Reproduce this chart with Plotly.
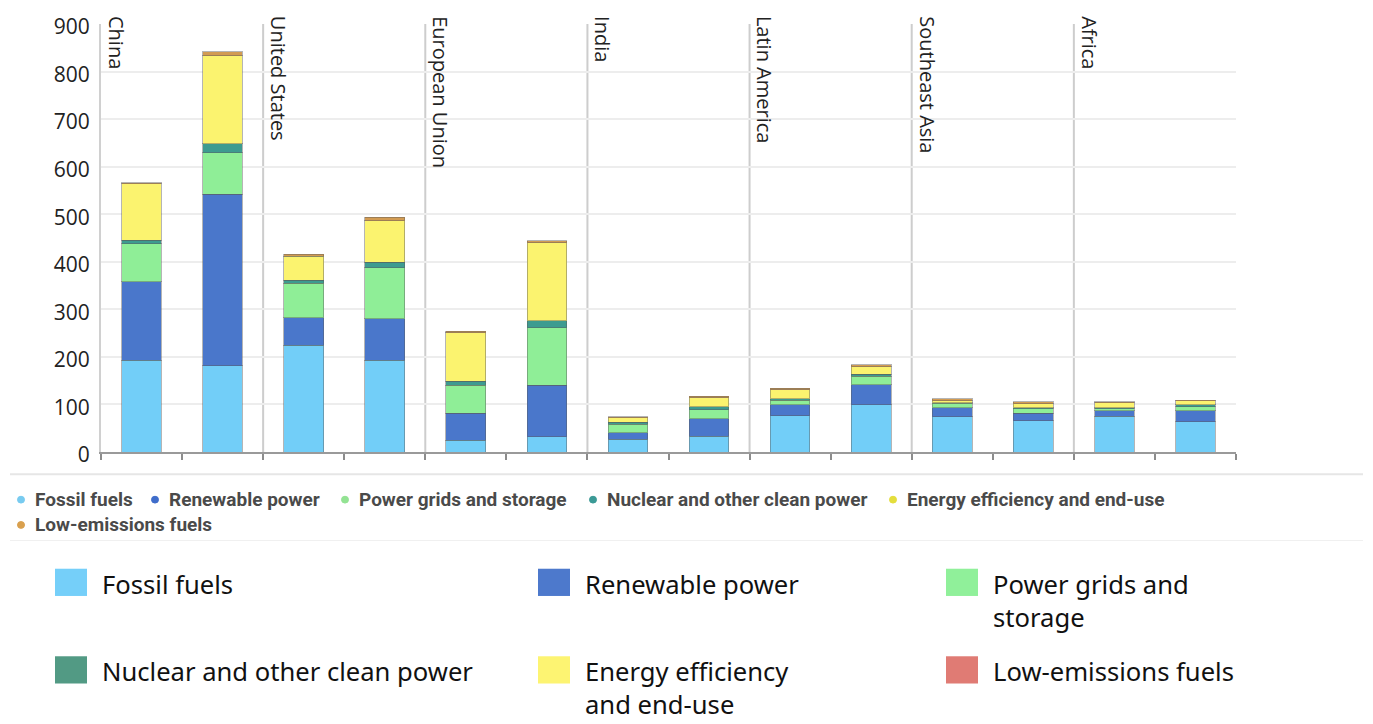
import plotly.graph_objects as go

# ---------------- data ----------------
regions = ["China", "United States", "European Union", "India",
           "Latin America", "Southeast Asia", "Africa"]
bars_per_region = 2

series_names = ["Fossil fuels", "Renewable power", "Power grids and storage",
                "Nuclear and other clean power", "Energy efficiency and end-use",
                "Low-emissions fuels"]

fossil_fuels = [193, 181, 224, 193, 25, 32, 27, 33, 76, 99, 74, 66, 75, 64]
renewable_power = [165, 361, 58, 87, 57, 108, 14, 37, 23, 42, 19, 16, 12, 23]
power_grids = [80, 87, 73, 107, 58, 121, 17, 19, 10, 18, 9, 9, 4, 8]
nuclear_clean = [7, 19, 6, 12, 9, 15, 5, 6, 3, 5, 2, 2, 2, 4]
efficiency_enduse = [119, 185, 51, 87, 102, 164, 9, 19, 19, 15, 4, 8, 11, 9]
low_emissions = [2, 9, 4, 8, 3, 4, 2, 3, 3, 4, 4, 5, 2, 1]

y_ticks = [0, 100, 200, 300, 400, 500, 600, 700, 800, 900]

# big legend labels (wrapped as in the reference)
big_legend_labels = ["Fossil fuels", "Renewable power", "Power grids and<br>storage",
                     "Nuclear and other clean power", "Energy efficiency<br>and end-use",
                     "Low-emissions fuels"]

# ---------------- styles ----------------
bar_colors = ["#72CEF8", "#4A77CB", "#8FEE97", "#3D9B90", "#FBF36F", "#D29B52"]
small_dot_colors = ["#78CBF0", "#3F6DCB", "#93E393", "#3B9A96", "#E4DE3C", "#D9A04E"]
big_legend_colors = ["#75CFF9", "#4D79CC", "#90F09A", "#529A84", "#FDF472", "#E07B74"]

W, H = 1373, 724
L, R, T, B = 101, 137, 12, 272
PW, PH = W - L - R, H - T - B


def px_x(px):
    return (px - L) / PW


def px_y(py):
    return (H - B - py) / PH


series_values = [fossil_fuels, renewable_power, power_grids,
                 nuclear_clean, efficiency_enduse, low_emissions]
n_bars = len(regions) * bars_per_region
xpos = list(range(n_bars))

fig = go.Figure()
for name, vals, col in zip(series_names, series_values, bar_colors):
    fig.add_trace(go.Bar(
        x=xpos, y=vals, name=name, width=0.49,
        marker=dict(color=col, line=dict(color="rgba(90,90,90,0.45)", width=1)),
        showlegend=False,
    ))

shapes = []
annotations = []

# region separators and labels
for i, reg in enumerate(regions):
    xb = i * bars_per_region - 0.5
    if i > 0:
        shapes.append(dict(type="line", xref="x", yref="paper", x0=xb, x1=xb,
                           y0=0, y1=1, line=dict(color="#CDCDCD", width=2), layer="below"))
    annotations.append(dict(
        text=reg, xref="x", yref="paper", x=xb, y=1, xanchor="left", yanchor="top",
        xshift=0, yshift=10, textangle=90, showarrow=False,
        font=dict(family="Open Sans", size=20, color="#222222")))

# thin grey rules around small legend box
shapes.append(dict(type="line", xref="paper", yref="paper", x0=px_x(10), x1=px_x(1363),
                   y0=px_y(475), y1=px_y(475), line=dict(color="#E6E6E6", width=2)))
shapes.append(dict(type="line", xref="paper", yref="paper", x0=px_x(10), x1=px_x(1363),
                   y0=px_y(543), y1=px_y(543), line=dict(color="#F0F0F0", width=1)))

# small legend (dots)
small_pos = [(21, 501), (155, 501), (345, 501), (593, 501), (893, 501), (21, 527)]
for (dx, dy), name, col in zip(small_pos, series_names, small_dot_colors):
    shapes.append(dict(type="circle", xref="paper", yref="paper",
                       x0=px_x(dx - 3.5), x1=px_x(dx + 3.5),
                       y0=px_y(dy + 3.5), y1=px_y(dy - 3.5),
                       fillcolor=col, line=dict(color=col, width=1)))
    annotations.append(dict(
        text=name, xref="paper", yref="paper", x=px_x(dx + 12), y=px_y(dy),
        xanchor="left", yanchor="middle", showarrow=False,
        font=dict(family="Roboto", size=19, color="#4A4A4A", weight=700)))

# big legend (squares)
col_x = [55, 538, 946]
row_y = [572, 662]
for k, (lab, col) in enumerate(zip(big_legend_labels, big_legend_colors)):
    cx = col_x[k % 3]
    ry = row_y[k // 3]
    shapes.append(dict(type="rect", xref="paper", yref="paper",
                       x0=px_x(cx), x1=px_x(cx + 32), y0=px_y(ry + 28), y1=px_y(ry),
                       fillcolor=col, line=dict(width=0)))
    annotations.append(dict(
        text=lab, xref="paper", yref="paper", x=px_x(cx + 45), y=px_y(ry - 4),
        xanchor="left", yanchor="top", align="left", showarrow=False,
        font=dict(family="Noto Sans", size=25.6, color="#111111")))

fig.update_layout(
    width=W, height=H,
    margin=dict(l=L, r=R, t=T, b=B),
    paper_bgcolor="white", plot_bgcolor="white",
    barmode="stack",
    shapes=shapes, annotations=annotations,
    xaxis=dict(range=[-0.5, n_bars - 0.5], tickvals=[k - 0.5 for k in range(n_bars + 1)],
               showticklabels=False, ticks="outside", ticklen=6, tickcolor="#8C8C8C",
               tickwidth=1.5, showgrid=False, zeroline=False,
               showline=True, linecolor="#9A9A9A", linewidth=2),
    yaxis=dict(range=[0, 900], tickvals=y_ticks, showgrid=True, gridcolor="#EDEDED",
               gridwidth=2, zeroline=False, showline=True, linecolor="#D0D0D0", linewidth=2,
               ticks="", ticklabelstandoff=5, ticklabelshift=3,
               ticklabeloverflow="allow",
               tickfont=dict(family="Open Sans", size=21, color="#222222")),
)

fig.write_html("out.html", config={"displayModeBar": False},
               post_script="document.body.style.margin='0px';")
